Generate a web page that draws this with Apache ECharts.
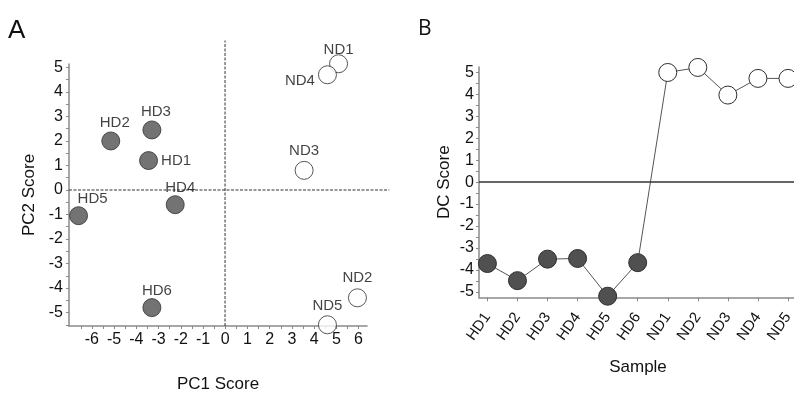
<!DOCTYPE html>
<html>
<head>
<meta charset="utf-8">
<script src="https://cdn.jsdelivr.net/npm/echarts@6/dist/echarts.min.js"></script>
<style>
  html, body { margin: 0; background: #fff; }
  #chart { width: 794px; height: 394px; }
</style>
</head>
<body>
<div id="chart"></div>
<script>
// Panel A: PCA scores
const pcaNames = ['HD1', 'HD2', 'HD3', 'HD4', 'HD5', 'HD6', 'ND1', 'ND2', 'ND3', 'ND4', 'ND5'];
const pc1 = [-3.45, -5.15, -3.3, -2.25, -6.6, -3.3, 5.1, 5.95, 3.55, 4.6, 4.6];
const pc2 = [1.2, 2.0, 2.45, -0.6, -1.05, -4.8, 5.15, -4.4, 0.8, 4.7, -5.5];
const pc1Ticks = [-6, -5, -4, -3, -2, -1, 0, 1, 2, 3, 4, 5, 6];
const pc2Ticks = [-5, -4, -3, -2, -1, 0, 1, 2, 3, 4, 5];

// Panel B: discriminant scores per sample
const samples = ['HD1', 'HD2', 'HD3', 'HD4', 'HD5', 'HD6', 'ND1', 'ND2', 'ND3', 'ND4', 'ND5'];
const dcScore = [-3.71, -4.49, -3.51, -3.48, -5.2, -3.67, 5.0, 5.23, 3.97, 4.73, 4.73];
const dcTicks = [-5, -4, -3, -2, -1, 0, 1, 2, 3, 4, 5];

// axis extents
const aX = [-7.03, 6.38], aY = [-5.55, 5.14];
const aXref = [-7.03, 7.4], aYref = [-5.55, 6.1];
const bX = [-0.28, 10.3], bY = [-5.25, 5.25];

const FONT = 'Liberation Sans';
const DARK = '#505050';
const EDGE = '#2e2e2e';
const AXIS = '#8a8a8a';

// label placement per point (style only)
const labelStyle = {
  HD1: { position: 'right', distance: 3 },
  HD2: { position: 'top', distance: 1, offset: [4, 0] },
  HD3: { position: 'top', distance: 1, offset: [4, 0] },
  HD4: { position: 'top', distance: 0, offset: [5, 0] },
  HD5: { position: 'top', distance: 0, offset: [14, 0] },
  HD6: { position: 'top', distance: 0, offset: [5, 0] },
  ND1: { position: 'top', distance: -3 },
  ND2: { position: 'top', distance: 3 },
  ND3: { position: 'top', distance: 3 },
  ND4: { position: 'left', distance: 3, offset: [0, 6] },
  ND5: { position: 'top', distance: 2 }
};

const halves = arr => {
  const out = [];
  arr.forEach(v => { out.push(v); out.push(v + 0.5); });
  out.push(arr[0] - 0.5);
  return out;
};

const pcaPoint = (i, healthy) => ({
  name: pcaNames[i],
  value: [pc1[i], pc2[i]],
  itemStyle: healthy
    ? { color: DARK, borderColor: EDGE, borderWidth: 1 }
    : { color: '#fff', borderColor: EDGE, borderWidth: 1 },
  label: Object.assign({ show: true, formatter: '{b}' }, labelStyle[pcaNames[i]])
});

const hdPoints = [], ndPoints = [];
pcaNames.forEach((n, i) => (n.startsWith('HD') ? hdPoints : ndPoints).push(pcaPoint(i, n.startsWith('HD'))));

const dcPoints = samples.map((s, i) => ({
  value: [i, dcScore[i]],
  itemStyle: s.startsWith('HD')
    ? { color: DARK, borderColor: EDGE, borderWidth: 1 }
    : { color: '#fff', borderColor: EDGE, borderWidth: 1 }
}));

const tickText = { color: '#111', fontFamily: FONT, fontSize: 16 };

const chart = echarts.init(document.getElementById('chart'));
chart.setOption({
  animation: false,
  backgroundColor: '#fff',
  title: [
    { text: 'A', left: 3, top: 13, textStyle: { fontFamily: FONT, fontSize: 26, fontWeight: 'normal', color: '#111' } },
    { text: 'B', left: 413, top: 14, textStyle: { fontFamily: 'Open Sans', fontSize: 21, fontWeight: 'normal', color: '#111' } }
  ],
  grid: [
    { left: 69, top: 64, width: 298, height: 262, outerBoundsMode: 'none' },
    { left: 69, top: 40.5, width: 320.3, height: 285.5, outerBoundsMode: 'none' },
    { left: 479, top: 67, width: 318, height: 230.3, outerBoundsMode: 'none' }
  ],
  xAxis: [
    {
      gridIndex: 0, type: 'value', min: aX[0], max: aX[1],
      name: 'PC1 Score', nameLocation: 'middle', nameGap: 50, nameMoveOverlap: false,
      nameTextStyle: { color: '#111', fontFamily: FONT, fontSize: 17 },
      axisLine: { show: true, onZero: false, lineStyle: { color: AXIS, width: 1.5 } },
      axisTick: { show: true, length: 3, customValues: halves(pc1Ticks), lineStyle: { color: AXIS } },
      axisLabel: Object.assign({ customValues: pc1Ticks, margin: 6 }, tickText),
      splitLine: { show: false }
    },
    { gridIndex: 1, type: 'value', min: aXref[0], max: aXref[1], show: false },
    {
      gridIndex: 2, type: 'value', min: bX[0], max: bX[1],
      name: 'Sample', nameLocation: 'middle', nameGap: 62, nameMoveOverlap: false,
      nameTextStyle: { color: '#111', fontFamily: FONT, fontSize: 17 },
      axisLine: { show: true, onZero: false, lineStyle: { color: AXIS, width: 1.5 } },
      axisTick: { show: true, length: 4, customValues: samples.map((s, i) => i), lineStyle: { color: AXIS } },
      axisLabel: Object.assign({
        customValues: samples.map((s, i) => i), rotate: 55, margin: 17, padding: [14, 0, 0, 0],
        formatter: v => samples[Math.round(v)]
      }, tickText, { fontSize: 15 }),
      splitLine: { show: false }
    }
  ],
  yAxis: [
    {
      gridIndex: 0, type: 'value', min: aY[0], max: aY[1],
      name: 'PC2 Score', nameLocation: 'middle', nameGap: 31, nameMoveOverlap: false,
      nameTextStyle: { color: '#111', fontFamily: FONT, fontSize: 17 },
      axisLine: { show: true, onZero: false, lineStyle: { color: AXIS, width: 1.5 } },
      axisTick: { show: true, length: 3, customValues: halves(pc2Ticks), lineStyle: { color: AXIS } },
      axisLabel: Object.assign({ customValues: pc2Ticks, margin: 6 }, tickText),
      splitLine: { show: false }
    },
    { gridIndex: 1, type: 'value', min: aYref[0], max: aYref[1], show: false },
    {
      gridIndex: 2, type: 'value', min: bY[0], max: bY[1],
      name: 'DC Score', nameLocation: 'middle', nameGap: 26, nameMoveOverlap: false,
      nameTextStyle: { color: '#111', fontFamily: FONT, fontSize: 17 },
      axisLine: { show: true, onZero: false, lineStyle: { color: AXIS, width: 1.5 } },
      axisTick: { show: true, length: 3, customValues: halves(dcTicks).filter(v => v <= 5 && v >= -5), lineStyle: { color: AXIS } },
      axisLabel: Object.assign({ customValues: dcTicks, margin: 5 }, tickText),
      splitLine: { show: false }
    }
  ],
  series: [
    // reference lines for panel A (x = 0, y = 0), drawn on the extended overlay grid
    {
      type: 'line', xAxisIndex: 1, yAxisIndex: 1, symbol: 'none', silent: true, z: 1,
      lineStyle: { color: '#333', width: 1, type: [3, 1.5] },
      data: [[aXref[0], 0], [aXref[1], 0]]
    },
    {
      type: 'line', xAxisIndex: 1, yAxisIndex: 1, symbol: 'none', silent: true, z: 1,
      lineStyle: { color: '#333', width: 1, type: [3, 1.5] },
      data: [[0, aYref[0]], [0, aYref[1]]]
    },
    {
      name: 'HD', type: 'scatter', xAxisIndex: 0, yAxisIndex: 0, symbolSize: 18, clip: false, z: 3,
      label: { color: '#111', fontFamily: FONT, fontSize: 15 },
      data: hdPoints
    },
    {
      name: 'ND', type: 'scatter', xAxisIndex: 0, yAxisIndex: 0, symbolSize: 18, clip: false, z: 3,
      label: { color: '#111', fontFamily: FONT, fontSize: 15 },
      data: ndPoints
    },
    {
      name: 'DC', type: 'line', xAxisIndex: 2, yAxisIndex: 2, symbol: 'circle', symbolSize: 18,
      showAllSymbol: true, clip: false, z: 3,
      lineStyle: { color: '#555', width: 1 },
      data: dcPoints,
      markLine: {
        silent: true, symbol: 'none', label: { show: false },
        lineStyle: { color: '#333', width: 1.5, type: 'solid' },
        data: [{ yAxis: 0 }]
      }
    }
  ]
});
</script>
</body>
</html>
